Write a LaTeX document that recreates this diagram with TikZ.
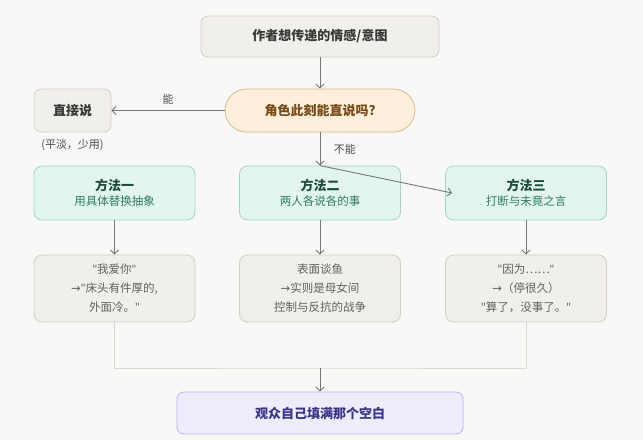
\documentclass[tikz,border=0pt]{standalone}
\usepackage{fontspec}
\setmainfont{Noto Sans CJK SC}
\newfontfamily\latinfont{Noto Sans}
\newfontfamily\symbolfont{DejaVu Sans}
\usepackage{tikz}
\usetikzlibrary{arrows.meta, positioning, calc, backgrounds}

\newcommand{\dq}{{\latinfont"}}
\newcommand{\toarrow}{{\symbolfont →}}

\definecolor{pagebg}{HTML}{F8F8F6}
\definecolor{sandfill}{HTML}{F1EFE9}
\definecolor{sandline}{HTML}{D3CFC7}
\definecolor{askfill}{HTML}{FCEFDB}
\definecolor{askline}{HTML}{DDB98C}
\definecolor{asktext}{HTML}{7A4A18}
\definecolor{mintfill}{HTML}{E2F5EE}
\definecolor{mintline}{HTML}{A3D5C2}
\definecolor{minttitle}{HTML}{1E4D3B}
\definecolor{minttext}{HTML}{2E7D5E}
\definecolor{lilacfill}{HTML}{EEEDFC}
\definecolor{lilacline}{HTML}{BCB5EE}
\definecolor{lilactext}{HTML}{3C3489}
\definecolor{flowgray}{HTML}{777777}
\definecolor{mergegray}{HTML}{D9D8D4}

\begin{document}
\begin{tikzpicture}[
  x=1pt, y=-1pt,
  >={Straight Barb[length=4pt,width=8pt]},
  startbox/.style={draw=sandline, fill=sandfill, line width=0.8pt, rounded corners=7pt,
    minimum width=238pt, minimum height=41pt, font=\fontsize{13}{16}\selectfont\bfseries, text=black!78},
  askbox/.style={draw=askline, fill=askfill, line width=0.8pt, rounded corners=21.5pt,
    minimum width=190pt, minimum height=43pt, font=\fontsize{13}{16}\selectfont\bfseries, text=asktext},
  plainbox/.style={draw=sandline, fill=sandfill, line width=0.8pt, rounded corners=7pt,
    minimum width=77pt, minimum height=43pt, font=\fontsize{13}{16}\selectfont\bfseries, text=black!78},
  methodbox/.style={draw=mintline, fill=mintfill, line width=0.8pt, rounded corners=8pt,
    minimum width=161pt, minimum height=54pt, align=center, text=minttitle},
  resultbox/.style={draw=sandline, fill=sandfill, line width=0.8pt, rounded corners=8pt,
    minimum width=161pt, minimum height=67pt, align=center, text=black!62,
    font=\fontsize{11.5}{19}\selectfont},
  endbox/.style={draw=lilacline, fill=lilacfill, line width=0.8pt, rounded corners=7pt,
    minimum width=286pt, minimum height=42pt, font=\fontsize{13}{16}\selectfont\bfseries, text=lilactext},
  flow/.style={->, flowgray, line width=0.9pt},
  merge/.style={mergegray, line width=1pt},
  edgelabel/.style={font=\fontsize{11}{13}\selectfont, text=black!70},
]

% --- canvas ---
\fill[pagebg] (0,0) rectangle (643,440);
\useasboundingbox (0,0) rectangle (643,440);

% --- question ---
\node[startbox] (intent) at (320,36.5) {作者想传递的情感/意图};
\node[askbox] (ask) at (320,110.5) {角色此刻能直说吗?};
\node[plainbox] (direct) at (72.5,110.5) {直接说};
\node[edgelabel, below=3pt of direct] (directnote) {(平淡，少用)};

% --- methods ---
\node[methodbox] (m1) at (114.5,193)
  {{\fontsize{13}{16}\selectfont\bfseries 方法一}\\[3pt]{\fontsize{11.5}{14}\selectfont\color{minttext}用具体替换抽象}};
\node[methodbox] (m2) at (320,193)
  {{\fontsize{13}{16}\selectfont\bfseries 方法二}\\[3pt]{\fontsize{11.5}{14}\selectfont\color{minttext}两人各说各的事}};
\node[methodbox] (m3) at (526,193)
  {{\fontsize{13}{16}\selectfont\bfseries 方法三}\\[3pt]{\fontsize{11.5}{14}\selectfont\color{minttext}打断与未竟之言}};

% --- examples ---
\node[resultbox] (r1) at (114.5,288.5) {\dq 我爱你\dq\\\toarrow\dq 床头有件厚的,\\外面冷。\dq};
\node[resultbox] (r2) at (320,288.5) {表面谈鱼\\\toarrow 实则是母女间\\控制与反抗的战争};
\node[resultbox] (r3) at (526,288.5) {\dq 因为……\dq\\\toarrow（停很久）\\\dq 算了，没事了。\dq};

% --- outcome ---
\node[endbox] (audience) at (320,413) {观众自己填满那个空白};

% --- connectors ---
\draw[flow] (intent) -- (ask);
\draw[flow] (ask) -- node[edgelabel, above=2pt] (yes) {能} (direct);
\draw[flow] (ask) -- node[edgelabel, right=10pt] (no) {不能} (m2);
\begin{scope}[on background layer]
  \draw[flow] (m2.north) -- ([xshift=-8pt]m1.east);
\end{scope}
\draw[flow] (m2.north) -- ([xshift=7pt]m3.west);
\foreach \i in {1,2,3} {
  \draw[flow] (m\i) -- (r\i);
}
\coordinate (join) at (320,368);
\draw[merge] (r1.south) |- (join) -| (r3.south);
\draw[flow] (join) -- (audience);

\end{tikzpicture}
\end{document}
